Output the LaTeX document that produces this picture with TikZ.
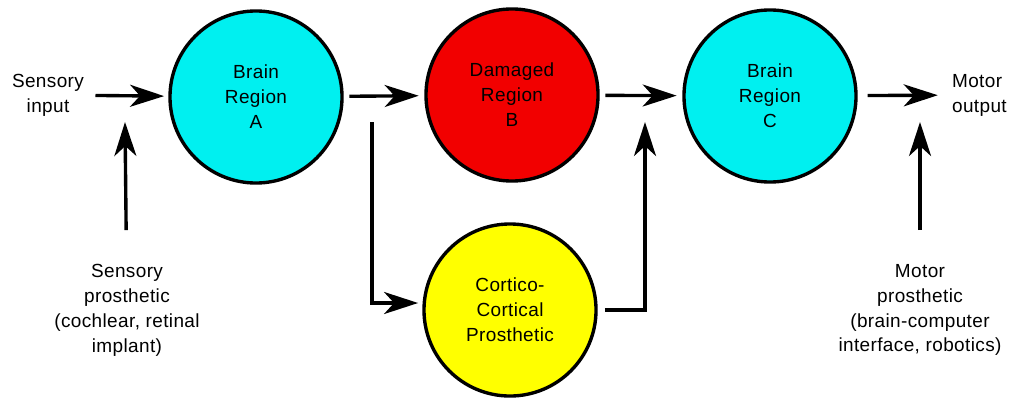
\documentclass[tikz,border=0pt]{standalone}
\usepackage{fontspec}
\setmainfont[LetterSpace=2]{Liberation Sans}
\usetikzlibrary{arrows.meta, positioning, calc}
\definecolor{regioncyan}{HTML}{00F0F0}
\definecolor{damagedred}{HTML}{F20000}
\definecolor{prostyellow}{HTML}{FFFF00}
\tikzset{
  region/.style={circle, draw=black, fill=#1, line width=2.4pt,
                 minimum size=4.3cm, inner sep=0pt, align=center,
                 font=\fontsize{13.5}{17.7}\selectfont},
  region/.default=regioncyan,
  lbl/.style={align=center, inner sep=2pt, font=\fontsize{13.5}{17.7}\selectfont},
  arr/.style={-{Stealth[length=0.85cm, width=0.55cm, inset=0.25cm]},
              line width=2.4pt, #1},
  arr/.default={},
}

\begin{document}
\begin{tikzpicture}[x=0.025cm, y=-0.025cm]
  \useasboundingbox (0,0) rectangle (1016,401);

  % --- regions along the pathway ---
  \node[region] (regA) at (256,97) {Brain\\Region\\A};
  \node[region=damagedred] (regB) at (512,95) {Damaged\\Region\\B};
  \node[region] (regC) at (770,96) {Brain\\Region\\C};
  \node[region=prostyellow] (cortico) at (510,310) {Cortico-\\Cortical\\Prosthetic};

  % --- input / output labels ---
  \node[lbl] (sensin) at (48,95) {Sensory\\input};
  \node[lbl, align=left, anchor=west] (motout) at (949,95) {Motor\\output};
  \node[lbl] (sensprost) at (127,310) {Sensory\\prosthetic\\(cochlear, retinal\\implant)};
  \node[lbl] (motprost) at (920,310) {Motor\\prosthetic\\(brain-computer\\interface, robotics)};

  % free ends of the prosthetic arrows
  \coordinate (sensjoin) at (125,122);
  \coordinate (split) at (372,122);
  \coordinate (merge) at (645,122);
  \coordinate (motjoin) at (920,122);

  % --- main chain ---
  \draw[arr, shorten <=6pt, shorten >=3pt] (sensin) -- (regA);
  \draw[arr, shorten <=4pt, shorten >=4pt] (regA) -- (regB);
  \draw[arr, shorten <=4pt, shorten >=4pt] (regB) -- (regC);
  \draw[arr, shorten <=7pt, shorten >=8pt] (regC) -- (motout);

  % --- bypass through the prosthetic ---
  \draw[arr, shorten >=3pt] (split) |- ($(cortico.west)+(0,-7)$);
  \draw[arr, shorten <=5pt] (cortico) -| (merge);

  % --- prosthetic inputs ---
  \draw[arr, shorten <=22pt] (sensprost) -- (sensjoin);
  \draw[arr, shorten <=22pt] (motprost) -- (motjoin);
\end{tikzpicture}
\end{document}
